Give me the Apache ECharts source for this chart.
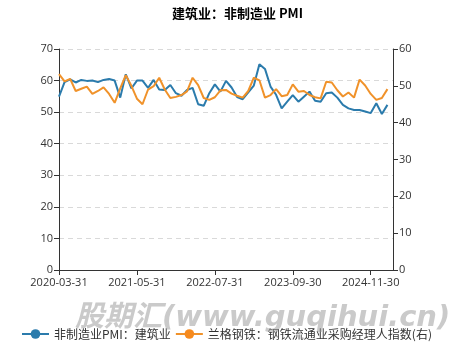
<!DOCTYPE html>
<html>
<head>
<meta charset="utf-8">
<script src="https://cdn.jsdelivr.net/npm/echarts@6/dist/echarts.min.js"></script>
<style>
html,body{margin:0;padding:0;background:#fff;}
#chart{width:475px;height:351px;}
</style>
</head>
<body>
<div id="chart"></div>
<script>
var titleText = '建筑业：非制造业 PMI';
var seriesNames = ['非制造业PMI：建筑业', '兰格钢铁：钢铁流通业采购经理人指数(右)'];
var categories = [
 '2020-03-31','2020-04-30','2020-05-31','2020-06-30','2020-07-31','2020-08-31','2020-09-30','2020-10-31','2020-11-30','2020-12-31',
 '2021-01-31','2021-02-28','2021-03-31','2021-04-30','2021-05-31','2021-06-30','2021-07-31','2021-08-31','2021-09-30','2021-10-31','2021-11-30','2021-12-31',
 '2022-01-31','2022-02-28','2022-03-31','2022-04-30','2022-05-31','2022-06-30','2022-07-31','2022-08-31','2022-09-30','2022-10-31','2022-11-30','2022-12-31',
 '2023-01-31','2023-02-28','2023-03-31','2023-04-30','2023-05-31','2023-06-30','2023-07-31','2023-08-31','2023-09-30','2023-10-31','2023-11-30','2023-12-31',
 '2024-01-31','2024-02-29','2024-03-31','2024-04-30','2024-05-31','2024-06-30','2024-07-31','2024-08-31','2024-09-30','2024-10-31','2024-11-30','2024-12-31',
 '2025-01-31','2025-02-28','2025-03-31'
];
var constructionPMI = [
 54.9,59.5,60.4,59.4,60.2,59.9,60.0,59.5,60.2,60.5,
 60.0,54.6,62.0,57.5,60.0,60.0,57.7,60.2,57.2,57.0,58.6,56.0,
 55.2,57.0,57.7,52.5,52.0,56.0,58.8,56.5,59.9,57.8,54.8,54.1,
 56.3,58.4,65.2,63.7,58.1,55.5,51.2,53.3,55.4,53.3,54.9,56.5,
 53.6,53.3,56.0,56.2,54.6,52.3,51.2,50.7,50.7,50.2,49.7,52.8,
 49.4,52.3,'-'
];
var steelPMI = [
 53.2,51.2,51.9,48.6,49.2,49.8,47.8,48.6,49.6,47.8,
 45.4,49.3,52.9,50.0,46.5,45.0,49.0,49.9,52.2,49.0,46.7,47.0,
 47.5,48.5,52.2,50.2,46.7,46.2,46.9,48.8,48.9,47.9,47.3,46.8,
 48.6,52.2,51.5,46.8,47.5,49.1,47.2,47.5,50.4,48.4,48.6,47.5,
 46.9,46.6,51.1,50.9,48.8,47.1,48.2,46.8,51.7,50.1,47.8,46.2,
 46.7,49.1,'-'
];
var leftTicks = {min:0, max:70, interval:10};
var rightTicks = {min:0, max:60, interval:10};
var watermark = '股期汇(www.guqihui.cn)';

var chart = echarts.init(document.getElementById('chart'), null, {renderer:'canvas'});
var axisColor = '#333';
var labelStyle = {color:'#333', fontSize:11, fontFamily:'"Open Sans", "Noto Sans CJK SC", sans-serif'};
chart.setOption({
  animation:false,
  backgroundColor:'#fff',
  title:{
    text:titleText, left:'center', top:2,
    textStyle:{fontSize:13, fontWeight:'bold', color:'#000', fontFamily:'"Noto Sans CJK SC", sans-serif'}
  },
  grid:{left:59, right:82, top:49, bottom:81, containLabel:false},
  legend:{
    bottom:6, left:16, itemWidth:27, itemHeight:12, itemGap:4,
    textStyle:{color:'#333', fontSize:12, fontFamily:'"Noto Sans CJK SC", sans-serif'},
    data:seriesNames
  },
  xAxis:{
    type:'category', data:categories, boundaryGap:false,
    axisLine:{lineStyle:{color:axisColor}},
    axisTick:{interval:13, length:5, lineStyle:{color:axisColor}},
    axisLabel:Object.assign({interval:13, margin:7}, labelStyle),
    splitLine:{show:false}
  },
  yAxis:[
    {type:'value', min:leftTicks.min, max:leftTicks.max, interval:leftTicks.interval, position:'left',
     axisLine:{show:true, lineStyle:{color:axisColor}},
     axisTick:{show:true, length:5, lineStyle:{color:axisColor}},
     axisLabel:Object.assign({margin:6}, labelStyle),
     splitLine:{show:true, lineStyle:{color:'#d9d9d9', type:[5,4]}}},
    {type:'value', min:rightTicks.min, max:rightTicks.max, interval:rightTicks.interval, position:'right',
     axisLine:{show:true, lineStyle:{color:axisColor}},
     axisTick:{show:true, length:5, lineStyle:{color:axisColor}},
     axisLabel:Object.assign({margin:6}, labelStyle),
     splitLine:{show:false}}
  ],
  series:[
    {name:seriesNames[0], type:'line', yAxisIndex:0, data:constructionPMI,
     symbol:'circle', showSymbol:false, symbolSize:10,
     lineStyle:{width:2, color:'#2b7bac'}, itemStyle:{color:'#2b7bac'}},
    {name:seriesNames[1], type:'line', yAxisIndex:1, data:steelPMI,
     symbol:'circle', showSymbol:false, symbolSize:10,
     lineStyle:{width:2, color:'#f0922a'}, itemStyle:{color:'#f68a1e'}}
  ],
  graphic:[{
    type:'text', left:75, top:304, silent:true, z:100,
    style:{text:watermark, fill:'rgba(150,150,150,0.5)', font:'italic bold 29px "DejaVu Sans", "Noto Sans CJK SC", sans-serif'}
  }]
});
</script>
</body>
</html>
